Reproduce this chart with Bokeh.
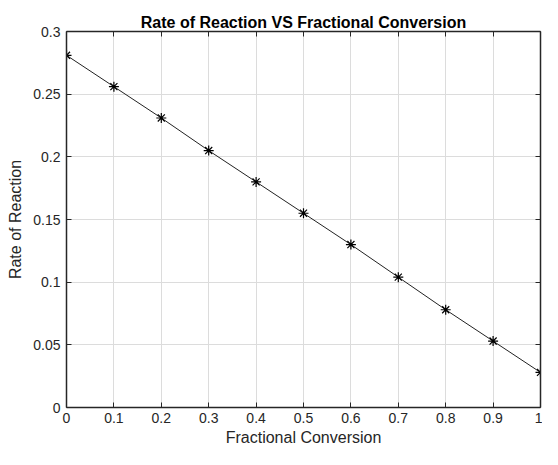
from bokeh.plotting import figure
from bokeh.models import FixedTicker, LinearAxis, Range1d, CustomJSTickFormatter
from bokeh.embed import file_html
from bokeh.resources import INLINE

conversion = [0.0, 0.1, 0.2, 0.3, 0.4, 0.5, 0.6, 0.7, 0.8, 0.9, 1.0]
rate = [0.281, 0.256, 0.231, 0.205, 0.180, 0.155, 0.130, 0.104, 0.078, 0.053, 0.028]
x_ticks = [0.0, 0.1, 0.2, 0.3, 0.4, 0.5, 0.6, 0.7, 0.8, 0.9, 1.0]
x_tick_labels = ["0", "0.1", "0.2", "0.3", "0.4", "0.5", "0.6", "0.7", "0.8", "0.9", "1"]
y_ticks = [0.0, 0.05, 0.1, 0.15, 0.2, 0.25, 0.3]
y_tick_labels = ["0", "0.05", "0.1", "0.15", "0.2", "0.25", "0.3"]

FONT = "Liberation Sans"
AX = "#262626"

p = figure(width=542, height=449, output_backend="svg", toolbar_location=None,
           x_range=Range1d(0, 1), y_range=Range1d(0, 0.3),
           min_border_left=66, min_border_right=2, min_border_top=31, min_border_bottom=42,
           title="Rate of Reaction VS Fractional Conversion")
p.title.align = "center"
p.title.text_font = FONT
p.title.text_font_size = "16px"
p.title.text_font_style = "bold"
p.title.text_color = "#000000"
p.title.offset = 0
p.title.standoff = 2
p.outline_line_color = None

p.line(conversion, rate, line_color="#222222", line_width=1)
p.scatter(conversion, rate, marker="asterisk", size=10, line_color="#000000", line_width=1.2)

xt = FixedTicker(ticks=x_ticks, minor_ticks=[])
yt = FixedTicker(ticks=y_ticks, minor_ticks=[])

for ax in p.xaxis + p.yaxis:
    ax.axis_line_color = AX
    ax.axis_line_width = 1.5
    ax.major_tick_line_color = AX
    ax.major_tick_in = 5
    ax.major_tick_out = 0
    ax.minor_tick_line_color = None
    ax.major_label_text_font = FONT
    ax.major_label_text_font_size = "14px"
    ax.major_label_text_color = AX
    ax.axis_label_text_font = FONT
    ax.axis_label_text_font_size = "16px"
    ax.axis_label_text_font_style = "normal"
    ax.axis_label_text_color = AX

p.xaxis.ticker = xt
p.yaxis.ticker = yt
p.xaxis.major_label_overrides = {t: l for t, l in zip(x_ticks, x_tick_labels)}
p.yaxis.major_label_overrides = {t: l for t, l in zip(y_ticks, y_tick_labels)}
p.xaxis.axis_label = "Fractional Conversion"
p.yaxis.axis_label = "Rate of Reaction"
p.xaxis.major_label_standoff = 5
p.yaxis.major_label_standoff = 6
p.xaxis.axis_label_standoff = 3
p.yaxis.axis_label_standoff = 6

for loc, tk in (("above", xt), ("right", yt)):
    a = LinearAxis(ticker=tk, formatter=CustomJSTickFormatter(code="return ''"))
    a.axis_line_color = AX
    a.axis_line_width = 1.5
    a.major_tick_line_color = AX
    a.major_tick_in = 5
    a.major_tick_out = 0
    a.minor_tick_line_color = None
    a.major_label_standoff = 0
    p.add_layout(a, loc)

p.xgrid.ticker = xt
p.ygrid.ticker = yt
p.grid.grid_line_color = "#dcdcdc"
p.grid.grid_line_width = 1

open("out.html", "w").write(file_html(p, INLINE))
